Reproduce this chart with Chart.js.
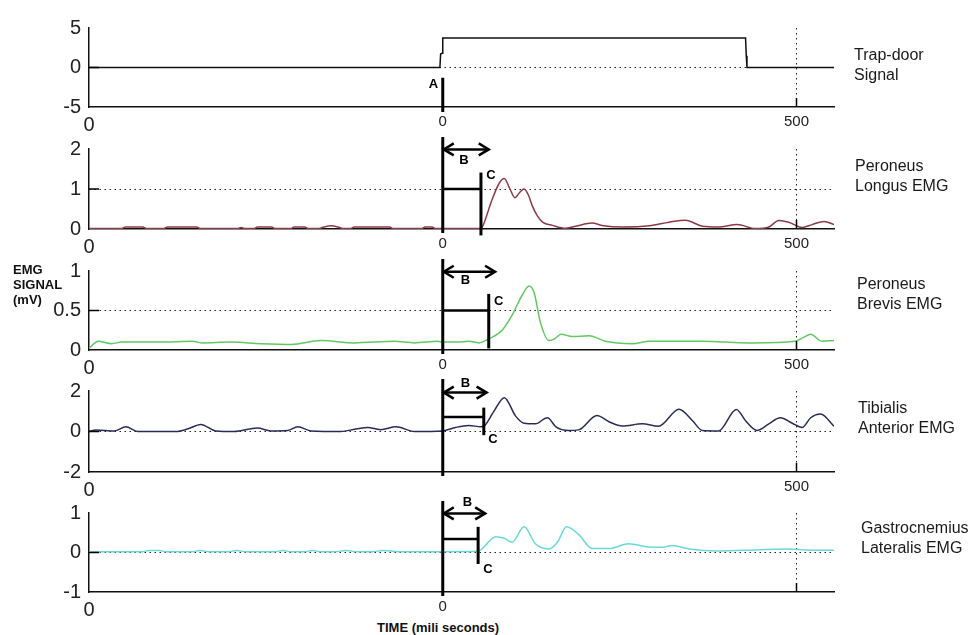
<!DOCTYPE html>
<html>
<head>
<meta charset="utf-8">
<script src="https://cdn.jsdelivr.net/npm/chart.js@4.4.0/dist/chart.umd.min.js"></script>
<style>
  body { margin: 0; background: #fff; width: 976px; height: 635px; overflow: hidden; position: relative;
         font-family: "Liberation Sans", Arial, sans-serif; }
  canvas { position: absolute; left: 0; }
  .name { position: absolute; font-size: 16px; line-height: 20px; color: #1a1a1a; white-space: nowrap; }
  .axt { position: absolute; font-weight: bold; color: #111; white-space: nowrap; }
</style>
</head>
<body>
<canvas id="c0"></canvas>
<canvas id="c1"></canvas>
<canvas id="c2"></canvas>
<canvas id="c3"></canvas>
<canvas id="c4"></canvas>

<div class="name" style="left:854px;top:45px">Trap-door<br>Signal</div>
<div class="name" style="left:855px;top:156px">Peroneus<br>Longus EMG</div>
<div class="name" style="left:857px;top:274px">Peroneus<br>Brevis EMG</div>
<div class="name" style="left:858px;top:398px">Tibialis<br>Anterior EMG</div>
<div class="name" style="left:861px;top:518px">Gastrocnemius<br>Lateralis EMG</div>
<div class="axt" style="left:13px;top:262px;font-size:13px;line-height:15px">EMG<br>SIGNAL<br>(mV)</div>
<div class="axt" style="left:377px;top:620px;font-size:13px">TIME (mili seconds)</div>

<script>
// ---- data (time in ms, signal in mV) ----
var xTicks = [-500, 0, 500];
var xTickText = [
    ['0', '0', '500'],
    ['0', '0', '500'],
    ['0', '0', '500'],
    ['0', '', '500'],
    ['0', '0', '']
];
var yTicks = [[-5, 0, 5], [0, 1, 2], [0, 0.5, 1], [-2, 0, 2], [-1, 0, 1]];
var yGrid = [0, 1, 0.5, 0, 0];

// trap-door signal
var trapT = [-500, -4, -3, -1, 0, 428, 429, 430, 553];
var trapV = [0, 0, 1.7, 1.8, 3.75, 3.75, 1.5, 0, 0];

// peroneus longus
var plT = [-500, -455, -448, -424, -418, -395, -389, -348, -342, -290, -285, -280, -267, -262, -242, -237,
    -215, -210, -195, -190, -175, -168, -158, -148, -141, -131, -125, -75, -70, -30, -25, -15, -10, 0, 30, 54,
    56, 70, 80, 87, 95, 102, 109, 115, 121, 127, 134, 141, 155, 174, 188, 211, 225, 254, 292, 320, 343, 367,
    390, 416, 442, 461, 475, 489, 508, 522, 539, 553];
var plV = [0.01, 0.01, 0.05, 0.05, 0.01, 0.01, 0.05, 0.05, 0.01, 0.01, 0.04, 0.01, 0.01, 0.05, 0.05, 0.01,
    0.01, 0.05, 0.05, 0.01, 0.01, 0.05, 0.08, 0.05, 0.01, 0.01, 0.05, 0.05, 0.01, 0.01, 0.05, 0.05, 0.01, 0.01, 0.01, 0.01,
    0.05, 0.75, 1.15, 1.26, 1.0, 0.78, 0.92, 1.0, 0.85, 0.56, 0.32, 0.17, 0.09, 0.02, 0.07, 0.15, 0.09, 0.05, 0.08, 0.17, 0.22, 0.07,
    0.05, 0.11, 0.01, 0.05, 0.21, 0.17, 0.04, 0.11, 0.19, 0.11];

// peroneus brevis
var pbT = [-500, -493, -487, -468, -454, -400, -353, -341, -300, -257, -214, -172, -125, -68, -40, -7, 0, 20,
    37, 51, 65, 84, 98, 112, 122, 129, 138, 150, 158, 167, 183, 207, 230, 268, 292, 367, 400, 437, 498, 510,
    520, 536, 553];
var pbV = [0.02, 0.08, 0.11, 0.08, 0.1, 0.1, 0.11, 0.09, 0.1, 0.08, 0.07, 0.12, 0.09, 0.11, 0.09, 0.11, 0.1, 0.1,
    0.11, 0.09, 0.14, 0.25, 0.44, 0.69, 0.81, 0.73, 0.35, 0.12, 0.14, 0.2, 0.17, 0.18, 0.11, 0.08, 0.11, 0.11, 0.1, 0.09, 0.11, 0.16,
    0.2, 0.11, 0.12];

// tibialis anterior
var taT = [-500, -490, -464, -448, -431, -377, -361, -342, -321, -295, -262, -243, -219, -205, -186, -144,
    -123, -106, -88, -66, -40, 0, 18, 37, 54, 58, 72, 87, 103, 115, 131, 148, 160, 178, 192, 218, 235, 254,
    282, 305, 334, 353, 367, 390, 415, 428, 444, 461, 477, 494, 508, 520, 534, 553];
var taV = [0, 0.08, 0.03, 0.23, 0, 0, 0.12, 0.35, 0.03, 0, 0.17, 0.03, 0.05, 0.23, 0.03, 0,
    0.12, 0.2, 0.09, 0.23, 0, 0.03, 0.2, 0.3, 0.23, 0.26, 0.98, 1.67, 0.76, 0.41, 0.38, 0.68, 0.23, 0.05, 0.08, 0.79, 0.48, 0.27,
    0.38, 0.26, 1.1, 0.53, 0.05, 0.03, 1.09, 0.53, 0.05, 0.38, 0.68, 0.41, 0.2, 0.68, 0.86, 0.26];

// gastrocnemius lateralis
var glT = [-500, -425, -415, -400, -392, -355, -343, -330, -304, -291, -279, -238, -226, -214, -196, -184,
    -172, -152, -137, -120, -100, -85, -62, 0, 50, 56, 75, 87, 98, 115, 131, 150, 162, 175, 192, 211, 235,
    263, 291, 310, 324, 348, 390, 437, 484, 522, 553];
var glV = [0.02, 0.02, 0.05, 0.05, 0.02, 0.02, 0.05, 0.02, 0.02, 0.05, 0.02, 0.02, 0.05, 0.02, 0.02, 0.05,
    0.02, 0.02, 0.05, 0.02, 0.02, 0.05, 0.02, 0.02, 0.03, 0.1, 0.4, 0.36, 0.26, 0.65, 0.22, 0.09, 0.26, 0.65, 0.46, 0.1, 0.1,
    0.22, 0.14, 0.13, 0.18, 0.09, 0.04, 0.06, 0.09, 0.06, 0.06];

// onset marks on the EMG panels (A = trap-door release, B = latency, C = onset)
var onsetC = [54, 65, 58, 50];
var bracketY = [1, 0.5, 0.71, 0.34];
var cLow = [-0.16, 0.02, -0.18, -0.29];
var cHigh = [1.41, 0.71, 1.18, 0.65];
var arrowY = [1.99, 0.99, 1.92, 0.99];
var arrowEnd = [65, 74, 62, 60];
var labelB = [[30, 1.72], [32, 0.88], [32, 2.35], [35, 1.28]];
var labelC = [[68, 1.33], [79, 0.61], [71, -0.41], [64, -0.42]];
var triggerA = -1.3;
var labelA = [-13, -2.1];

// ---- look ----
var lineColors = ['#111111', '#8b3a46', '#62c862', '#2b2b58', '#6ad8d8'];
var panelBox = [[22, 107], [143, 229], [265, 350], [385, 472], [507, 592]];
var tickFamily = '"Liberation Sans Narrow", "Liberation Sans", Arial, sans-serif';
var bigFont = {family: tickFamily, size: 20};
var smallFont = {family: tickFamily, size: 15};

function arrowHead(ctx, x, y, dir) {
    ctx.beginPath();
    ctx.moveTo(x - dir * 10, y - 6);
    ctx.lineTo(x, y);
    ctx.lineTo(x - dir * 10, y + 6);
    ctx.stroke();
}

var marksPlugin = {
    id: 'marks',
    afterDraw: function (chart, args, opts) {
        var i = opts.panel;
        var ctx = chart.ctx, xs = chart.scales.x, ys = chart.scales.y, a = chart.chartArea;
        var x0 = xs.getPixelForValue(0);
        ctx.save();
        ctx.strokeStyle = '#000';
        ctx.fillStyle = '#000';

        // short inner ticks
        ctx.lineWidth = 1.5;
        ctx.beginPath();
        var x5 = xs.getPixelForValue(500);
        ctx.moveTo(x5, a.bottom);
        ctx.lineTo(x5, a.bottom - 9);
        var yg = ys.getPixelForValue(yGrid[i]);
        ctx.moveTo(a.left, yg);
        ctx.lineTo(a.left + 10, yg);
        ctx.stroke();

        ctx.font = 'bold 13px "Liberation Sans", Arial, sans-serif';
        ctx.textAlign = 'center';
        ctx.textBaseline = 'middle';

        if (i === 0) {
            ctx.lineWidth = 3;
            ctx.beginPath();
            ctx.moveTo(x0, ys.getPixelForValue(triggerA));
            ctx.lineTo(x0, a.bottom + 5);
            ctx.stroke();
            ctx.fillText('A', xs.getPixelForValue(labelA[0]), ys.getPixelForValue(labelA[1]));
        } else {
            var k = i - 1;
            var xc = xs.getPixelForValue(onsetC[k]);
            // trigger line
            ctx.lineWidth = 3;
            ctx.beginPath();
            ctx.moveTo(x0, a.top - 12);
            ctx.lineTo(x0, a.bottom + 4);
            ctx.stroke();
            // C line
            ctx.beginPath();
            ctx.moveTo(xc, ys.getPixelForValue(cLow[k]));
            ctx.lineTo(xc, ys.getPixelForValue(cHigh[k]));
            ctx.stroke();
            // bracket
            ctx.lineWidth = 2.5;
            var yb = ys.getPixelForValue(bracketY[k]);
            ctx.beginPath();
            ctx.moveTo(x0, yb);
            ctx.lineTo(xc, yb);
            ctx.stroke();
            // B arrow
            var ya = ys.getPixelForValue(arrowY[k]);
            var xb = xs.getPixelForValue(arrowEnd[k]);
            ctx.beginPath();
            ctx.moveTo(x0, ya);
            ctx.lineTo(xb, ya);
            ctx.stroke();
            arrowHead(ctx, x0 + 1, ya, -1);
            arrowHead(ctx, xb, ya, 1);
            ctx.fillText('B', xs.getPixelForValue(labelB[k][0]), ys.getPixelForValue(labelB[k][1]));
            ctx.fillText('C', xs.getPixelForValue(labelC[k][0]), ys.getPixelForValue(labelC[k][1]));
        }
        ctx.restore();
    }
};

function makePanel(i, times, vals) {
    var cv = document.getElementById('c' + i);
    var top = panelBox[i][0], bottom = panelBox[i][1];
    cv.width = 976;
    cv.height = 14 + (bottom - top) + 24;
    cv.style.top = (top - 14) + 'px';
    var pts = [];
    for (var k = 0; k < times.length; k++) {
        pts.push({x: times[k], y: vals[k]});
    }
    var yt = yTicks[i];
    return new Chart(cv.getContext('2d'), {
        type: 'line',
        data: {
            datasets: [{
                data: pts,
                borderColor: lineColors[i],
                borderWidth: 1.5,
                pointRadius: 0,
                fill: false,
                tension: i === 0 ? 0 : 0.4,
                cubicInterpolationMode: i === 0 ? 'default' : 'monotone'
            }]
        },
        options: {
            responsive: false,
            animation: false,
            layout: {padding: {left: 0, right: 142, top: 14, bottom: 0}},
            plugins: {legend: {display: false}, tooltip: {enabled: false}, marks: {panel: i}},
            scales: {
                x: {
                    type: 'linear', min: -500, max: 553,
                    afterBuildTicks: function (s) { s.ticks = xTicks.map(function (v) { return {value: v}; }); },
                    afterFit: function (s) { s.height = 24; },
                    ticks: {
                        autoSkip: false, maxRotation: 0, padding: 6, color: '#222',
                        callback: function (v, idx) { return xTickText[i][idx]; },
                        font: function (c) { return c.tick && c.tick.value === -500 ? bigFont : smallFont; }
                    },
                    grid: {
                        drawTicks: false, lineWidth: 1,
                        color: function (c) { return c.tick && c.tick.value === 500 ? '#222' : 'rgba(0,0,0,0)'; }
                    },
                    border: {color: '#111', width: 1.5, dash: [1.5, 3.5]}
                },
                y: {
                    min: yt[0], max: yt[yt.length - 1],
                    afterBuildTicks: function (s) { s.ticks = yt.map(function (v) { return {value: v}; }); },
                    afterFit: function (s) { s.width = 89; },
                    ticks: {
                        padding: 8, color: '#222', font: bigFont,
                        callback: function (v) { return String(v); }
                    },
                    grid: {
                        drawTicks: false, lineWidth: 1,
                        color: function (c) { return c.tick && c.tick.value === yGrid[i] ? '#222' : 'rgba(0,0,0,0)'; }
                    },
                    border: {color: '#111', width: 1.5, dash: [1.5, 3.5]}
                }
            }
        },
        plugins: [marksPlugin]
    });
}

makePanel(0, trapT, trapV);
makePanel(1, plT, plV);
makePanel(2, pbT, pbV);
makePanel(3, taT, taV);
makePanel(4, glT, glV);
</script>
</body>
</html>
